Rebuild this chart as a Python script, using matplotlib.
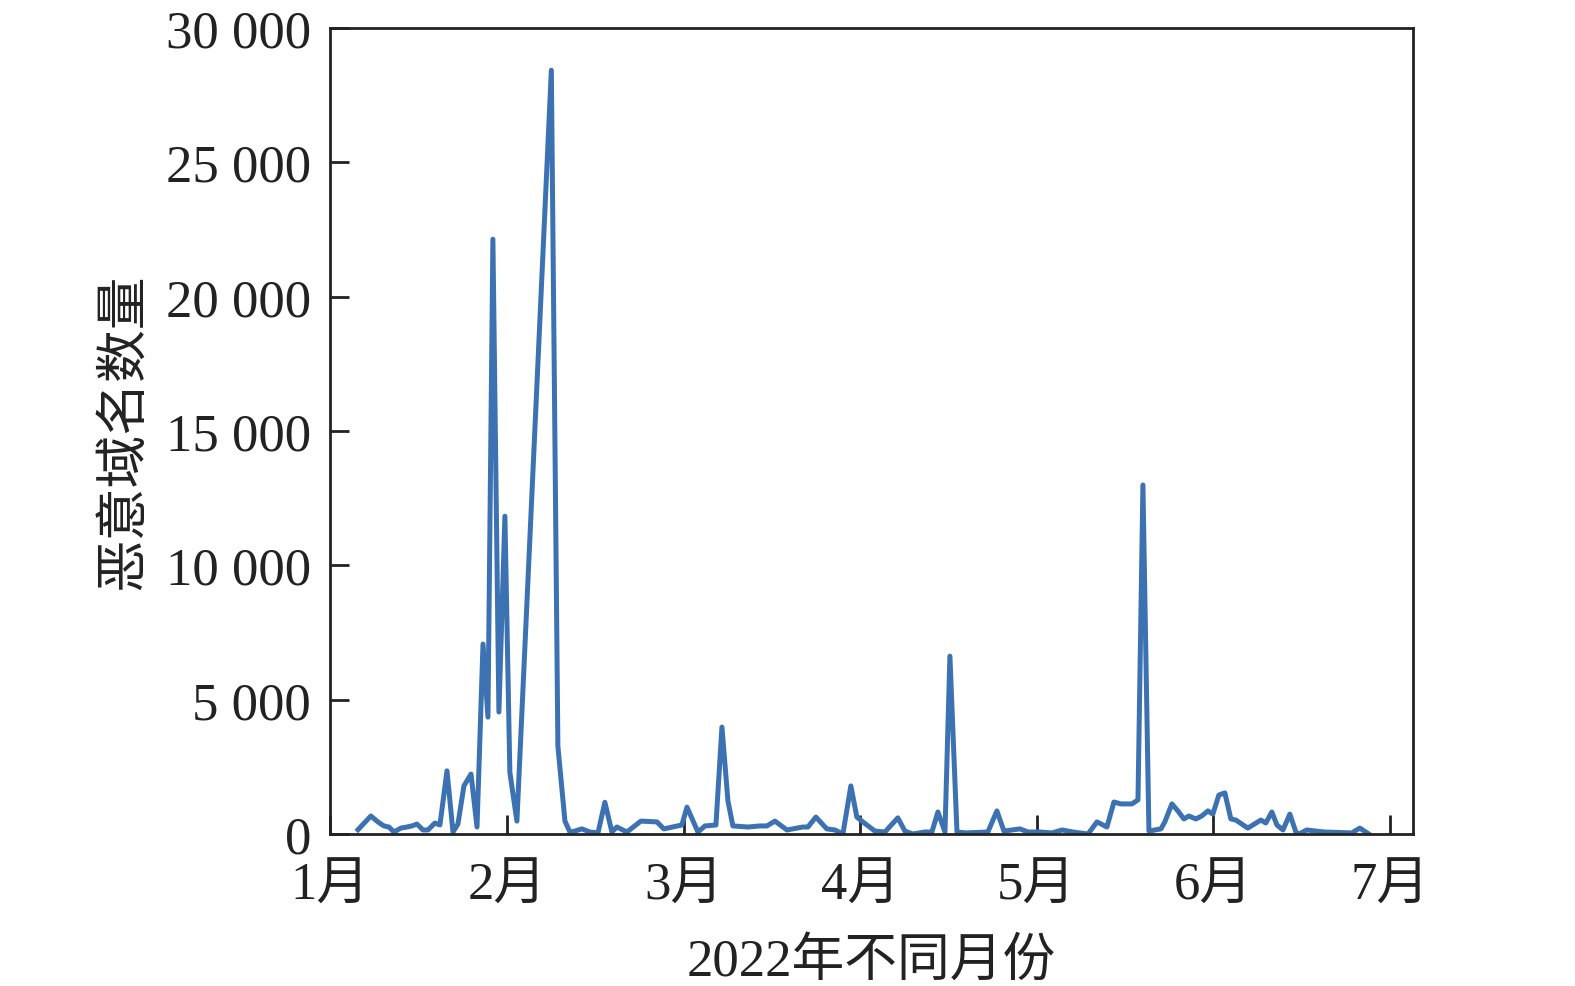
import matplotlib
matplotlib.use('Agg')
import matplotlib.pyplot as plt
from matplotlib.ticker import FuncFormatter

plt.rcParams['font.family'] = ['Liberation Serif', 'Noto Sans CJK SC', 'DejaVu Sans']

# x: position in months (1 = start of Jan), y: number of malicious domains
month_pos = [1.156, 1.229, 1.269, 1.303, 1.331, 1.360, 1.399, 1.433, 1.461, 1.490,
             1.524, 1.552, 1.592, 1.620, 1.660, 1.694, 1.722, 1.756, 1.796, 1.830,
             1.864, 1.892, 1.920, 1.954, 1.988, 2.016, 2.056, 2.251, 2.288, 2.328,
             2.356, 2.384, 2.424, 2.469, 2.515, 2.554, 2.594, 2.622, 2.679, 2.758,
             2.849, 2.888, 2.990, 3.019, 3.081, 3.121, 3.183, 3.217, 3.251, 3.279,
             3.364, 3.432, 3.472, 3.517, 3.585, 3.675, 3.704, 3.749, 3.811, 3.857,
             3.902, 3.947, 3.981, 4.015, 4.083, 4.140, 4.213, 4.253, 4.298, 4.366,
             4.406, 4.440, 4.480, 4.508, 4.548, 4.599, 4.723, 4.774, 4.814, 4.905,
             4.950, 5.018, 5.086, 5.143, 5.205, 5.290, 5.341, 5.397, 5.437, 5.476,
             5.539, 5.573, 5.601, 5.635, 5.703, 5.725, 5.765, 5.799, 5.833, 5.861,
             5.901, 5.934, 5.969, 5.997, 6.031, 6.065, 6.099, 6.127, 6.195, 6.269,
             6.297, 6.331, 6.360, 6.394, 6.433, 6.467, 6.484, 6.529, 6.580, 6.626,
             6.784, 6.829, 6.880]
domains = [160, 670, 450, 300, 260, 75, 220, 260, 300, 370,
           150, 150, 410, 335, 2350, 75, 370, 1790, 2230, 260,
           7070, 4350, 22140, 4540, 11830, 2300, 480, 28430, 3270, 480,
           75, 110, 190, 75, 40, 1180, 75, 260, 75, 480,
           450, 190, 335, 1000, 75, 300, 335, 3980, 1230, 300,
           260, 300, 300, 480, 150, 260, 260, 630, 190, 150,
           0, 1790, 630, 450, 110, 75, 600, 110, 0, 75,
           75, 820, 75, 6620, 75, 40, 75, 860, 110, 190,
           75, 75, 40, 150, 75, 0, 450, 260, 1190, 1120,
           1120, 1270, 12990, 110, 190, 450, 1120, 860, 560, 670,
           560, 670, 860, 740, 1450, 1530, 560, 520, 220, 520,
           410, 820, 335, 150, 740, 75, 0, 150, 110, 75,
           40, 220, 0]

month_ticks = [1, 2, 3, 4, 5, 6, 7]
month_labels = ['1月', '2月', '3月', '4月', '5月', '6月', '7月']
y_ticks = [0, 5000, 10000, 15000, 20000, 25000, 30000]

fig = plt.figure(figsize=(15.75, 9.87), dpi=100)
ax = fig.add_axes([0.2098, 0.154, 0.6873, 0.8166])

ax.plot(month_pos, domains, color='#3d72b2', lw=3.6, solid_joinstyle='round')

ax.set_xlim(1, 7.13)
ax.set_ylim(0, 30000)
ax.set_xticks(month_ticks)
ax.set_xticklabels(month_labels)
ax.set_yticks(y_ticks)
ax.yaxis.set_major_formatter(FuncFormatter(lambda v, p: f'{int(v):,}'.replace(',', ' ')))

ax.tick_params(direction='in', length=14, width=2, labelsize=38,
               colors='#222222', top=False, right=False)
ax.tick_params(axis='y', pad=14)
ax.tick_params(axis='x', pad=20)
for s in ax.spines.values():
    s.set_linewidth(2)
    s.set_color('#222222')

ax.set_xlabel('2022年不同月份', fontsize=38, color='#222222')
ax.set_ylabel('恶意域名数量', fontsize=38, color='#222222')
ax.xaxis.set_label_coords(0.5, -0.128)
ax.yaxis.set_label_coords(-0.168, 0.5)

fig.savefig('out.png', dpi=100)
